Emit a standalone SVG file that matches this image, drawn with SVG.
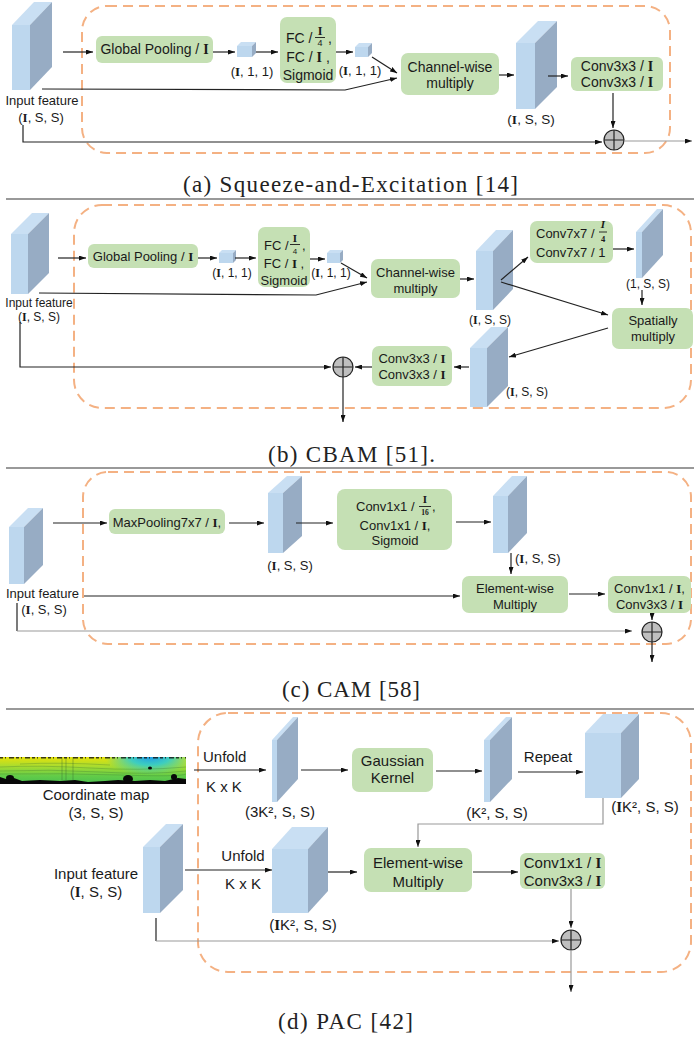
<svg xmlns="http://www.w3.org/2000/svg" width="694" height="1038" viewBox="0 0 694 1038">
<defs>
<style>
.t{font-family:"Liberation Sans",Arial,sans-serif;fill:#1a1a1a}
.b{font-family:"Liberation Serif","Times New Roman",serif;font-weight:bold}
.bi{font-family:"Liberation Serif","Times New Roman",serif;font-weight:bold;font-style:italic}
.cap{font-family:"Liberation Serif","Times New Roman",serif;fill:#222;font-size:23px}
.box{fill:#C5E0B4}
.dash{fill:none;stroke:#F4B183;stroke-width:2;stroke-dasharray:10 6}
.fr{fill:#BDD7EE}.tp{fill:#C9DFF3}.sd{fill:#97ACC4}
.ln{fill:none;stroke:#222;stroke-width:1.2;marker-end:url(#ah)}
.lg{fill:none;stroke:#999;stroke-width:1.2;marker-end:url(#ah)}
.pl{fill:none;stroke:#222;stroke-width:1.2}
.sep{stroke:#777;stroke-width:1.5}
.fb{stroke:#1a1a1a;stroke-width:0.9}
.circ{fill:#BFBFBF;stroke:#222;stroke-width:1.2}
</style>
<marker id="ah" markerWidth="7" markerHeight="5" refX="7" refY="2.5" orient="auto" markerUnits="userSpaceOnUse"><path d="M0,0 L7,2.5 L0,5 z" fill="#111"/></marker>
<linearGradient id="cmv" x1="0" y1="0" x2="0" y2="1"><stop offset="0" stop-color="#E6E20A"/><stop offset="0.35" stop-color="#A8DC30"/><stop offset="0.7" stop-color="#62CC48"/><stop offset="1" stop-color="#4CC050"/></linearGradient>
<radialGradient id="cmr" cx="150" cy="757" r="45" gradientUnits="userSpaceOnUse" gradientTransform="translate(150 757) scale(1 0.4) translate(-150 -757)"><stop offset="0" stop-color="#1E9CE8"/><stop offset="0.45" stop-color="#30CCD0" stop-opacity="0.9"/><stop offset="1" stop-color="#40D0B0" stop-opacity="0"/></radialGradient>
</defs>

<!-- ============ Panel (a) ============ -->
<g id="a-frame"><rect class="dash" x="82" y="6" width="588" height="147" rx="25"/></g>
<g id="a-input"><rect class="fr" x="12" y="25" width="18" height="65"/><polygon class="tp" points="12,25 34,2 52,2 30,25"/><polygon class="sd" points="30,25 52,2 52,67 30,90"/>
<text class="t" x="42" y="104.5" font-size="13" text-anchor="middle">Input feature</text>
<text class="t" x="41" y="121.5" font-size="13" text-anchor="middle">(<tspan class="b">I</tspan>, S, S)</text></g>
<g id="a-gp"><rect class="box" x="96" y="36" width="117" height="27" rx="6"/><text class="t" x="154.5" y="54" font-size="14" text-anchor="middle">Global Pooling / <tspan class="b">I</tspan></text></g>
<g id="a-cube1"><rect class="fr" x="237" y="46" width="15" height="11"/><polygon class="tp" points="237,46 241,42 256,42 252,46"/><polygon class="sd" points="252,46 256,42 256,53 252,57"/>
<text class="t" x="252" y="75.5" font-size="13" text-anchor="middle">(<tspan class="b">I</tspan>, 1, 1)</text></g>
<g id="a-fc"><rect class="box" x="280" y="17" width="56" height="66" rx="7"/>
<text class="t" x="286" y="43" font-size="14">FC /</text>
<text class="t b" x="320" y="35" font-size="12" text-anchor="middle">I</text><line class="fb" x1="315" y1="37.5" x2="325" y2="37.5"/>
<text class="t" x="320" y="46" font-size="9" text-anchor="middle">4</text><text class="t" x="328" y="43" font-size="14">,</text>
<text class="t" x="308" y="62" font-size="14" text-anchor="middle">FC / <tspan class="b">I</tspan> ,</text>
<text class="t" x="308" y="80" font-size="14" text-anchor="middle">Sigmoid</text></g>
<g id="a-cube2"><rect class="fr" x="355" y="47" width="13" height="10"/><polygon class="tp" points="355,47 359,43 372,43 368,47"/><polygon class="sd" points="368,47 372,43 372,53 368,57"/>
<text class="t" x="360" y="74.5" font-size="13" text-anchor="middle">(<tspan class="b">I</tspan>, 1, 1)</text></g>
<g id="a-cw"><rect class="box" x="401" y="53" width="98" height="42" rx="7"/>
<text class="t" x="450" y="72" font-size="14" text-anchor="middle">Channel-wise</text>
<text class="t" x="450" y="88" font-size="14" text-anchor="middle">multiply</text></g>
<g id="a-feat"><rect class="fr" x="516" y="43" width="19" height="66"/><polygon class="tp" points="516,43 538,21 557,21 535,43"/><polygon class="sd" points="535,43 557,21 557,87 535,109"/>
<text class="t" x="531" y="124" font-size="13.5" text-anchor="middle">(<tspan class="b">I</tspan>, S, S)</text></g>
<g id="a-conv"><rect class="box" x="571" y="57" width="92" height="34" rx="6"/>
<text class="t" x="617" y="71" font-size="14" text-anchor="middle">Conv3x3 / <tspan class="b">I</tspan></text>
<text class="t" x="617" y="87" font-size="14" text-anchor="middle">Conv3x3 / <tspan class="b">I</tspan></text></g>
<g id="a-add"><circle class="circ" cx="614" cy="140" r="10"/><path class="pl" d="M604,140 H624 M614,130 V150"/></g>
<g id="a-conn">
<path class="ln" d="M63,52 H93"/><path class="ln" d="M213,52 H235"/><path class="ln" d="M256,52 H278"/>
<path class="ln" d="M336,52 H353"/><path class="ln" d="M372,57 L397,73"/>
<path class="ln" d="M42,89 L345,90 L397,78"/><path class="ln" d="M499,75 H514"/>
<path class="ln" d="M548,76 H568"/><path class="ln" d="M613,93 V128"/>
<path class="ln" d="M23,125 V142 H602"/>
<path class="lg" d="M624,141 H692"/>
</g>
<text class="cap" x="183" y="192" textLength="335">(a) Squeeze-and-Excitation [14]</text>
<line class="sep" x1="6" y1="199" x2="694" y2="199"/>

<!-- ============ Panel (b) ============ -->
<g id="b-frame"><rect class="dash" x="74" y="205" width="617" height="203" rx="28"/></g>
<g id="b-input"><rect class="fr" x="11" y="234" width="17" height="60"/><polygon class="tp" points="11,234 32,213 49,213 28,234"/><polygon class="sd" points="28,234 49,213 49,273 28,294"/>
<text class="t" x="39" y="307" font-size="12" text-anchor="middle">Input feature</text>
<text class="t" x="39" y="321" font-size="12" text-anchor="middle">(<tspan class="b">I</tspan>, S, S)</text></g>
<g id="b-gp"><rect class="box" x="88" y="244" width="110" height="24" rx="6"/><text class="t" x="143" y="260.5" font-size="13" text-anchor="middle">Global Pooling / <tspan class="b">I</tspan></text></g>
<g id="b-cube1"><rect class="fr" x="219" y="253" width="14" height="10"/><polygon class="tp" points="219,253 222,250 236,250 233,253"/><polygon class="sd" points="233,253 236,250 236,260 233,263"/>
<text class="t" x="232" y="277" font-size="12" text-anchor="middle">(<tspan class="b">I</tspan>, 1, 1)</text></g>
<g id="b-fc"><rect class="box" x="258" y="227" width="52" height="60" rx="7"/>
<text class="t" x="264" y="250" font-size="13">FC /</text>
<text class="t b" x="295" y="242" font-size="11" text-anchor="middle">I</text><line class="fb" x1="290" y1="244.5" x2="300" y2="244.5"/>
<text class="t" x="295" y="254" font-size="8" text-anchor="middle">4</text><text class="t" x="302" y="250" font-size="13">,</text>
<text class="t" x="284" y="268" font-size="13" text-anchor="middle">FC / <tspan class="b">I</tspan> ,</text>
<text class="t" x="284" y="285" font-size="13" text-anchor="middle">Sigmoid</text></g>
<g id="b-cube2"><rect class="fr" x="327" y="253" width="13" height="10"/><polygon class="tp" points="327,253 330,250 343,250 340,253"/><polygon class="sd" points="340,253 343,250 343,260 340,263"/>
<text class="t" x="331" y="277" font-size="12" text-anchor="middle">(<tspan class="b">I</tspan>, 1, 1)</text></g>
<g id="b-cw"><rect class="box" x="371" y="259" width="89" height="39" rx="7"/>
<text class="t" x="415.5" y="276.5" font-size="13" text-anchor="middle">Channel-wise</text>
<text class="t" x="415.5" y="293" font-size="13" text-anchor="middle">multiply</text></g>
<g id="b-feat1"><rect class="fr" x="476" y="251" width="17" height="59"/><polygon class="tp" points="476,251 496,230 513,230 493,251"/><polygon class="sd" points="493,251 513,230 513,289 493,310"/>
<text class="t" x="490" y="324" font-size="12" text-anchor="middle">(<tspan class="b">I</tspan>, S, S)</text></g>
<g id="b-conv7"><rect class="box" x="530" y="221" width="83" height="42" rx="7"/>
<text class="t" x="536" y="238" font-size="13">Conv7x7 / </text>
<text class="t bi" x="603" y="228" font-size="11" text-anchor="middle">I</text><line class="fb" x1="599" y1="232" x2="607" y2="232"/>
<text class="t b" x="603" y="242" font-size="8.5" text-anchor="middle">4</text>
<text class="t" x="536" y="257" font-size="13">Conv7x7 / 1</text></g>
<g id="b-feat2"><rect class="fr" x="636" y="232" width="6" height="46"/><polygon class="tp" points="636,232 657,209 663,209 642,232"/><polygon class="sd" points="642,232 663,209 663,255 642,278"/>
<text class="t" x="648" y="288" font-size="12" text-anchor="middle">(1, S, S)</text></g>
<g id="b-sp"><rect class="box" x="612" y="308" width="81" height="41" rx="7"/>
<text class="t" x="653" y="324.5" font-size="13" text-anchor="middle">Spatially</text>
<text class="t" x="653" y="340.5" font-size="13" text-anchor="middle">multiply</text></g>
<g id="b-feat3"><rect class="fr" x="470" y="348" width="17" height="59"/><polygon class="tp" points="470,348 491,327 508,327 487,348"/><polygon class="sd" points="487,348 508,327 508,386 487,407"/>
<text class="t" x="527" y="396" font-size="12" text-anchor="middle">(<tspan class="b">I</tspan>, S, S)</text></g>
<g id="b-conv3"><rect class="box" x="372" y="346" width="80" height="40" rx="7"/>
<text class="t" x="412" y="362.5" font-size="13" text-anchor="middle">Conv3x3 / <tspan class="b">I</tspan></text>
<text class="t" x="412" y="378.5" font-size="13" text-anchor="middle">Conv3x3 / <tspan class="b">I</tspan></text></g>
<g id="b-add"><circle class="circ" cx="343" cy="367" r="10"/><path class="pl" d="M333,367 H353 M343,357 V377"/></g>
<g id="b-conn">
<path class="ln" d="M58,258 H86"/><path class="ln" d="M198,258 H217"/><path class="ln" d="M235,258 H256"/>
<path class="ln" d="M310,259 H325"/><path class="ln" d="M341,263 L367,278"/>
<path class="ln" d="M39,293 L316,295 L367,282"/><path class="ln" d="M460,279 H474"/>
<path class="ln" d="M501,280 L528,257"/><path class="ln" d="M613,249 H634"/>
<path class="ln" d="M642,290 V305"/><path class="ln" d="M501,282 L608,315"/>
<path class="ln" d="M608,328 L509,357"/><path class="ln" d="M469,367 H454"/>
<path class="ln" d="M372,367 H355"/><path class="ln" d="M20,322 V367 H331"/>
<path class="ln" d="M343,377 V422"/>
</g>
<text class="cap" x="268" y="462" textLength="167">(b) CBAM [51].</text>
<line class="sep" x1="6" y1="468" x2="694" y2="468"/>

<!-- ============ Panel (c) ============ -->
<g id="c-frame"><rect class="dash" x="83" y="472" width="608" height="172" rx="25"/></g>
<g id="c-input"><rect class="fr" x="9" y="527" width="15" height="57"/><polygon class="tp" points="9,527 28,508 43,508 24,527"/><polygon class="sd" points="24,527 43,508 43,565 24,584"/>
<text class="t" x="42.5" y="597.5" font-size="13" text-anchor="middle">Input feature</text>
<text class="t" x="44" y="613.5" font-size="13" text-anchor="middle">(<tspan class="b">I</tspan>, S, S)</text></g>
<g id="c-mp"><rect class="box" x="109" y="509" width="116" height="25" rx="6"/><text class="t" x="167" y="526.5" font-size="13" text-anchor="middle">MaxPooling7x7 / <tspan class="b">I</tspan>,</text></g>
<g id="c-feat1"><rect class="fr" x="268" y="493" width="15" height="60"/><polygon class="tp" points="268,493 287,476 302,476 283,493"/><polygon class="sd" points="283,493 302,476 302,536 283,553"/>
<text class="t" x="290" y="569.5" font-size="13" text-anchor="middle">(<tspan class="b">I</tspan>, S, S)</text></g>
<g id="c-conv"><rect class="box" x="337" y="489" width="115" height="61" rx="8"/>
<text class="t" x="356" y="511" font-size="13">Conv1x1 / </text>
<text class="t b" x="425" y="503" font-size="11" text-anchor="middle">I</text><line class="fb" x1="419" y1="506.5" x2="431" y2="506.5"/>
<text class="t b" x="425" y="515" font-size="7.5" text-anchor="middle">16</text><text class="t" x="432" y="511" font-size="13">,</text>
<text class="t" x="395" y="529.5" font-size="13" text-anchor="middle">Conv1x1 / <tspan class="b">I</tspan>,</text>
<text class="t" x="395" y="544.5" font-size="13" text-anchor="middle">Sigmoid</text></g>
<g id="c-feat2"><rect class="fr" x="493" y="496" width="15" height="57"/><polygon class="tp" points="493,496 512,476 527,476 508,496"/><polygon class="sd" points="508,496 527,476 527,533 508,553"/>
<text class="t" x="515" y="562.5" font-size="13">(<tspan class="b">I</tspan>, S, S)</text></g>
<g id="c-ew"><rect class="box" x="462" y="576" width="106" height="37" rx="7"/>
<text class="t" x="515" y="592.5" font-size="13" text-anchor="middle">Element-wise</text>
<text class="t" x="515" y="608.5" font-size="13" text-anchor="middle">Multiply</text></g>
<g id="c-conv2"><rect class="box" x="608" y="576" width="83" height="37" rx="7"/>
<text class="t" x="649.5" y="592.5" font-size="13" text-anchor="middle">Conv1x1 / <tspan class="b">I</tspan>,</text>
<text class="t" x="649.5" y="608.5" font-size="13" text-anchor="middle">Conv3x3 / <tspan class="b">I</tspan></text></g>
<g id="c-add"><circle class="circ" cx="652" cy="632" r="10"/><path class="pl" d="M642,632 H662 M652,622 V642"/></g>
<g id="c-conn">
<path class="ln" d="M53,523 H107"/><path class="ln" d="M229,523 H264"/><path class="ln" d="M296,523 H333"/>
<path class="ln" d="M456,522 H491"/><path class="ln" d="M511,553 V574"/>
<path class="ln" d="M84,596 H460"/><path class="ln" d="M569,594 H605"/>
<path class="ln" d="M652,613 V620"/>
<path class="pl" d="M17,603 V631"/><path class="lg" d="M17,631 H632"/>
<path class="ln" d="M652,642 V662"/>
</g>
<text class="cap" x="282" y="697" textLength="138">(c) CAM [58]</text>
<line class="sep" x1="6" y1="709" x2="694" y2="709"/>

<!-- ============ Panel (d) ============ -->
<g id="d-frame"><rect class="dash" x="198" y="713" width="493" height="259" rx="30"/></g>
<g id="d-coord">
<rect x="0" y="757" width="186" height="27" fill="url(#cmv)"/>
<rect x="90" y="757" width="96" height="18" fill="url(#cmr)"/>
<path d="M0,767 Q40,765 90,768 T186,767 M0,771 Q50,769 100,772 T186,771 M0,774 Q60,773 120,775 T186,774 M20,764 Q60,762 110,765" stroke="#2E6A2E" stroke-width="0.5" opacity="0.55" fill="none"/>
<path d="M62,757 V780 M66,757 V780 M73,757 V780" stroke="#2E5A2E" stroke-width="0.6" opacity="0.6" fill="none"/>
<line x1="0" y1="757.7" x2="186" y2="757.7" stroke="#111" stroke-width="1.4" stroke-dasharray="3 2 1 3 5 2" opacity="0.8"/>
<path d="M0,777 L6,779 L14,778 L22,781 L40,780 L60,781 L75,780 L88,782 L105,781 L118,780 L135,781 L150,780 L165,781 L178,778 L186,779 V784 H0 Z" fill="#080808"/>
<ellipse cx="128" cy="779" rx="5" ry="4" fill="#080808"/><ellipse cx="174" cy="777" rx="3" ry="3" fill="#080808"/>
<ellipse cx="10" cy="778" rx="4" ry="3" fill="#080808"/><ellipse cx="150" cy="768" rx="2" ry="1.5" fill="#080808"/>
<text class="t" x="96" y="800" font-size="15" text-anchor="middle">Coordinate map</text>
<text class="t" x="96" y="818" font-size="15" text-anchor="middle">(3, S, S)</text></g>
<g id="d-feat1"><rect class="fr" x="272" y="740" width="5" height="62"/><polygon class="tp" points="272,740 293,717 298,717 277,740"/><polygon class="sd" points="277,740 298,717 298,779 277,802"/>
<text class="t" x="280" y="817" font-size="15" text-anchor="middle">(3K², S, S)</text></g>
<g id="d-gk"><rect class="box" x="352" y="748" width="81" height="44" rx="7"/>
<text class="t" x="392.5" y="766" font-size="15" text-anchor="middle">Gaussian</text>
<text class="t" x="392.5" y="783" font-size="15" text-anchor="middle">Kernel</text></g>
<g id="d-feat2"><rect class="fr" x="484" y="740" width="6" height="62"/><polygon class="tp" points="484,740 506,717 512,717 490,740"/><polygon class="sd" points="490,740 512,717 512,779 490,802"/>
<text class="t" x="497" y="818" font-size="15" text-anchor="middle">(K², S, S)</text></g>
<g id="d-feat3"><rect class="fr" x="585" y="733" width="36" height="65"/><polygon class="tp" points="585,733 603,714 639,714 621,733"/><polygon class="sd" points="621,733 639,714 639,779 621,798"/>
<text class="t" x="645" y="812" font-size="15" text-anchor="middle">(<tspan class="b">I</tspan>K², S, S)</text></g>
<g id="d-input"><rect class="fr" x="143" y="847" width="17" height="66"/><polygon class="tp" points="143,847 166,824 183,824 160,847"/><polygon class="sd" points="160,847 183,824 183,890 160,913"/>
<text class="t" x="96" y="879" font-size="15" text-anchor="middle">Input feature</text>
<text class="t" x="96" y="897" font-size="15" text-anchor="middle">(<tspan class="b">I</tspan>, S, S)</text></g>
<g id="d-feat4"><rect class="fr" x="272" y="849" width="36" height="64"/><polygon class="tp" points="272,849 292,827 328,827 308,849"/><polygon class="sd" points="308,849 328,827 328,891 308,913"/>
<text class="t" x="303" y="930" font-size="15" text-anchor="middle">(<tspan class="b">I</tspan>K², S, S)</text></g>
<g id="d-ew"><rect class="box" x="364" y="848" width="108" height="44" rx="7"/>
<text class="t" x="418" y="868" font-size="15" text-anchor="middle">Element-wise</text>
<text class="t" x="418" y="887" font-size="15" text-anchor="middle">Multiply</text></g>
<g id="d-conv"><rect class="box" x="520" y="853" width="85" height="36" rx="6"/>
<text class="t" x="562.5" y="868" font-size="15" text-anchor="middle">Conv1x1 / <tspan class="b">I</tspan></text>
<text class="t" x="562.5" y="886" font-size="15" text-anchor="middle">Conv3x3 / <tspan class="b">I</tspan></text></g>
<g id="d-add"><circle class="circ" cx="571" cy="940" r="10"/><path class="pl" d="M561,940 H581 M571,930 V950"/></g>
<g id="d-conn">
<path class="ln" d="M194,770 H266"/><path class="ln" d="M301,770 H348"/><path class="ln" d="M436,771 H482"/>
<path class="ln" d="M518,772 H583"/>
<path class="lg" d="M603,798 V824 H418 V847"/>
<path class="ln" d="M185,870 H272"/><path class="ln" d="M328,872 H357"/><path class="ln" d="M473,872 H518"/>
<path class="lg" d="M571,889 V928"/>
<path class="pl" d="M156,918 V941"/><path class="lg" d="M156,941 H559"/>
<path class="lg" d="M571,950 V992"/>
</g>
<g id="d-labels">
<text class="t" x="203" y="762" font-size="15">Unfold</text>
<text class="t" x="206" y="792" font-size="15">K x K</text>
<text class="t" x="548" y="762" font-size="15" text-anchor="middle">Repeat</text>
<text class="t" x="243" y="861" font-size="15" text-anchor="middle">Unfold</text>
<text class="t" x="243" y="889" font-size="15" text-anchor="middle">K x K</text>
</g>
<text class="cap" x="278" y="1029" textLength="135">(d) PAC [42]</text>
</svg>
